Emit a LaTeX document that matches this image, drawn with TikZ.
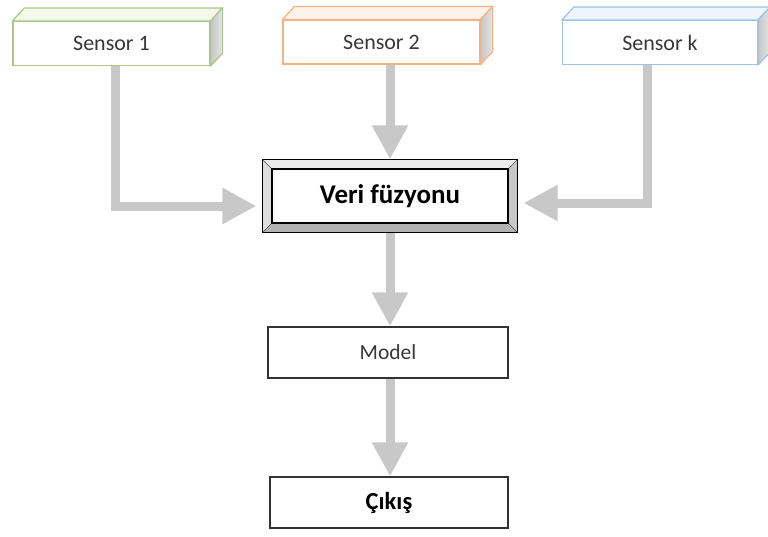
\documentclass[tikz,border=0pt]{standalone}
\usepackage{fontspec}
\setmainfont{Carlito}
\usetikzlibrary{arrows.meta,calc}

\definecolor{arrowgray}{RGB}{200,200,200}
\definecolor{textgray}{RGB}{55,55,55}
\definecolor{sgreen}{RGB}{169,198,142}
\definecolor{sgreentop}{RGB}{244,248,232}
\definecolor{sorange}{RGB}{244,177,131}
\definecolor{sorangetop}{RGB}{253,243,235}
\definecolor{sblue}{RGB}{157,195,230}
\definecolor{sbluetop}{RGB}{239,245,252}
\definecolor{bevtop}{RGB}{236,236,236}
\definecolor{bevleft}{RGB}{222,222,222}
\definecolor{bevright}{RGB}{200,200,200}
\definecolor{bevbottom}{RGB}{178,178,178}

% top and right faces of a sensor block: node, border colour, top colour
\newcommand\sensorfaces[3]{%
  \path[draw=#2, line width=1.2pt, line join=round, fill=#3]
    (#1.north west) -- ++(12,-13) -- ($(#1.north east)+(12,-13)$)
    -- (#1.north east) -- cycle;
  \path[draw=#2, line width=1.2pt, line join=round,
        left color=gray!45, right color=gray!20]
    (#1.north east) -- ++(12,-13) -- ($(#1.south east)+(12,-13)$)
    -- (#1.south east) -- cycle;
}

\tikzset{
  sensorbox/.style={draw=#1, line width=1.2pt, fill=white, inner sep=0pt,
    minimum width=197pt, minimum height=44pt,
    font=\fontsize{22}{26}\selectfont, text=textgray},
  plainbox/.style={draw=black!80, line width=1.3pt, fill=white, inner sep=0pt,
    minimum width=240pt, minimum height=51pt},
  fat/.style={draw=arrowgray, line width=9pt, line join=miter,
    -{Triangle[width=34pt,length=34pt]}},
}

\begin{document}
\begin{tikzpicture}[x=1pt,y=-1pt]
\useasboundingbox (0,0) rectangle (768,536);

% sensor blocks
\node[sensorbox=sgreen]  (s1) at (111.5,43.5) {Sensor 1};
\sensorfaces{s1}{sgreen}{sgreentop}
\node[sensorbox=sorange] (s2) at (381.5,42) {Sensor 2};
\sensorfaces{s2}{sorange}{sorangetop}
\node[sensorbox=sblue, minimum width=195pt] (sk) at (660,42.5) {Sensor k};
\sensorfaces{sk}{sblue}{sbluetop}

% bevelled fusion box
\node[draw=black, line width=1.2pt, fill=bevleft, inner sep=0pt,
      minimum width=254pt, minimum height=72pt] (veri) at (390,196) {};
\coordinate (iNW) at ($(veri.north west)+(9,9)$);
\coordinate (iNE) at ($(veri.north east)+(-9,9)$);
\coordinate (iSW) at ($(veri.south west)+(9,-9)$);
\coordinate (iSE) at ($(veri.south east)+(-9,-9)$);
\fill[bevtop] (veri.north west) -- (veri.north east) -- (iNE) -- (iNW) -- cycle;
\fill[bevleft] (veri.north west) -- (iNW) -- (iSW) -- (veri.south west) -- cycle;
\fill[bevright] (veri.north east) -- (iNE) -- (iSE) -- (veri.south east) -- cycle;
\fill[bevbottom] (veri.south west) -- (iSW) -- (iSE) -- (veri.south east) -- cycle;
\draw[black!70, line width=0.6pt]
  (veri.north west) -- (iNW) (veri.north east) -- (iNE)
  (veri.south west) -- (iSW) (veri.south east) -- (iSE);
\draw[black, line width=1.2pt] (veri.north west) rectangle (veri.south east);
\node[draw=black, line width=1.2pt, fill=white, inner sep=0pt,
      minimum width=236pt, minimum height=54pt,
      font=\fontsize{27}{31}\selectfont\bfseries] (vericore) at (veri) {Veri füzyonu};

% model and output
\node[plainbox, font=\fontsize{21.5}{25}\selectfont, text=textgray] (model) at (388,352.5) {Model};
\node[plainbox, minimum width=238pt, font=\fontsize{24.5}{28}\selectfont\bfseries] (cikis) at (389,502.5) {Çıkış};

% connectors
\draw[fat] ([xshift=3.5pt]s1.south) |- ([xshift=-6pt,yshift=-10pt]veri.west);
\draw[fat] (veri.north |- s2.south) -- (veri.north);
\draw[fat] ([xshift=-13pt]sk.south) |- ([xshift=6pt,yshift=-7pt]veri.east);
\draw[fat] (veri.south) -- (veri.south |- model.north);
\draw[fat] (veri.south |- model.south) -- (veri.south |- cikis.north);
\end{tikzpicture}
\end{document}
